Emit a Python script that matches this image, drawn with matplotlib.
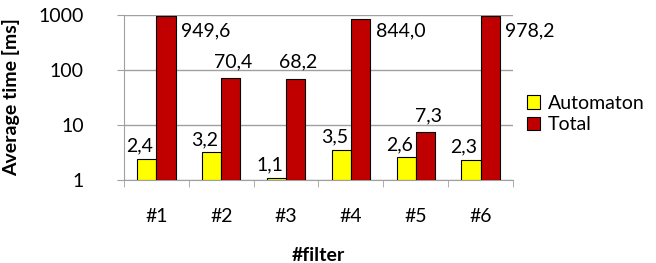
import numpy as np
import matplotlib.pyplot as plt
from matplotlib.ticker import FixedLocator, NullLocator

plt.rcParams['font.family'] = ['Lato', 'DejaVu Sans']

# Data
filters = ['#1', '#2', '#3', '#4', '#5', '#6']
automaton = [2.4, 3.2, 1.1, 3.5, 2.6, 2.3]
total = [949.6, 70.4, 68.2, 844.0, 7.3, 978.2]

fig = plt.figure(figsize=(6.56, 2.63), dpi=100)
ax = fig.add_axes([0.189, 0.316, 0.593, 0.627])

x = np.arange(len(filters))
w = 0.295
base = 1
ax.bar(x - w / 2, np.array(automaton) - base, w, bottom=base, color='#ffff00',
       edgecolor='black', linewidth=0.8, label='Automaton', zorder=3)
ax.bar(x + w / 2, np.array(total) - base, w, bottom=base, color='#c00000',
       edgecolor='black', linewidth=0.8, label='Total', zorder=3)

ax.set_yscale('log')
ax.set_ylim(1, 1000)
ax.set_xlim(-0.5, len(filters) - 0.5)
ax.yaxis.set_major_locator(FixedLocator([1, 10, 100, 1000]))
ax.yaxis.set_minor_locator(NullLocator())
ax.set_yticklabels(['1', '10', '100', '1000'])
ax.grid(axis='y', color='#a0a0a0', linewidth=1, zorder=0)

ax.set_xticks(x)
ax.set_xticklabels(filters)
ax.xaxis.set_minor_locator(FixedLocator(np.arange(-0.5, len(filters), 1)))
ax.tick_params(axis='x', which='major', length=0, pad=20, labelsize=14)
ax.tick_params(axis='x', which='minor', length=5, color='#a0a0a0')
ax.tick_params(axis='y', which='major', length=5, color='#a0a0a0', labelsize=14, pad=24)

for s in ['top', 'right']:
    ax.spines[s].set_visible(False)
for s in ['left', 'bottom']:
    ax.spines[s].set_color('#a0a0a0')

def fmt(v):
    return f'{v:.1f}'.replace('.', ',')

for i, v in enumerate(automaton):
    ax.annotate(fmt(v), (x[i] - w / 2, v), xytext=(-5, 3), textcoords='offset points',
                ha='center', va='bottom', fontsize=14)
for i, v in enumerate(total):
    if v > 500:
        ax.annotate(fmt(v), (x[i] + w, 1000), xytext=(4, -5), textcoords='offset points',
                    ha='left', va='top', fontsize=14)
    else:
        ax.annotate(fmt(v), (x[i] + w / 2, v), xytext=(2, 6), textcoords='offset points',
                    ha='center', va='bottom', fontsize=14)

ax.set_ylabel('Average time [ms]', fontsize=14, fontweight='bold')
ax.yaxis.set_label_coords(-0.267, 0.5)
ax.set_xlabel('#filter', fontsize=14, fontweight='bold', labelpad=16)

ax.legend(loc='center left', bbox_to_anchor=(1.035, 0.4), frameon=False, fontsize=14,
          handlelength=0.7, handleheight=0.7, handletextpad=0.4, labelspacing=0.25,
          borderaxespad=0, borderpad=0)

fig.savefig('out.png', dpi=100)
